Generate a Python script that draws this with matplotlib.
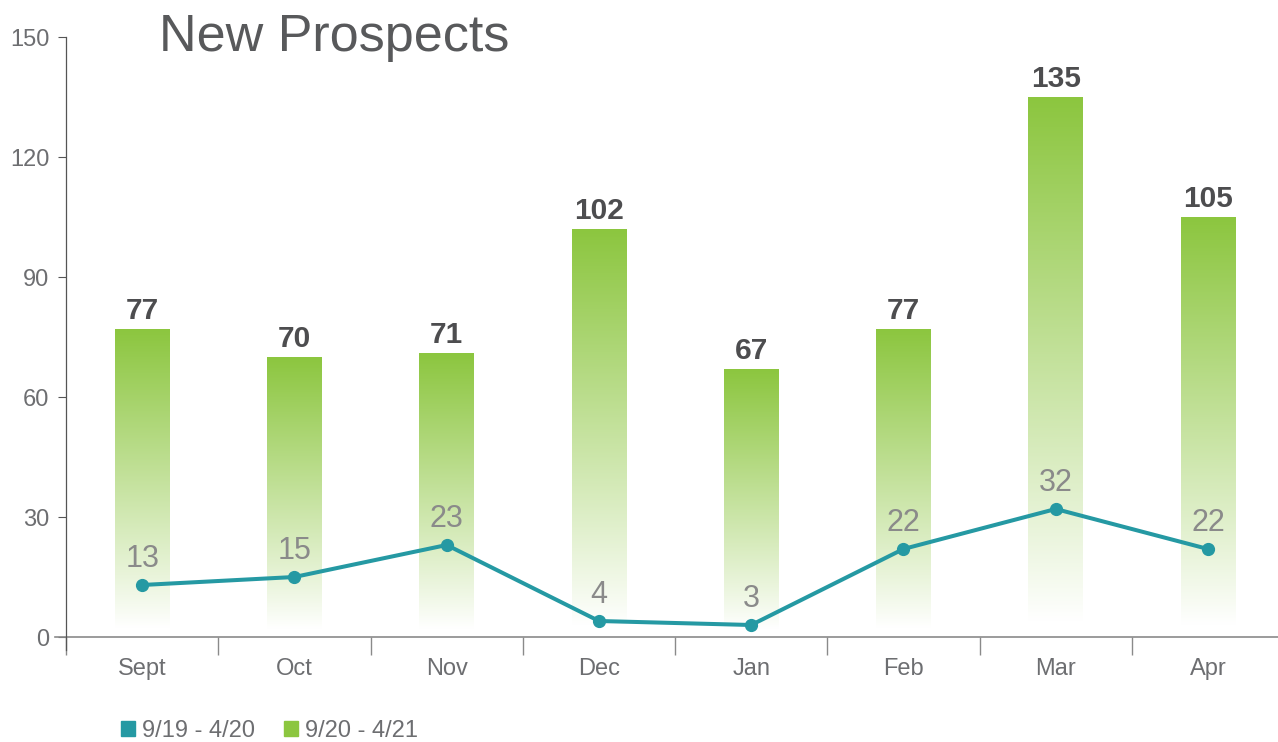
import numpy as np
import matplotlib
matplotlib.use('Agg')
import matplotlib.pyplot as plt
from matplotlib.patches import Rectangle
from matplotlib.colors import to_rgb

months = ['Sept', 'Oct', 'Nov', 'Dec', 'Jan', 'Feb', 'Mar', 'Apr']
current = [77, 70, 71, 102, 67, 77, 135, 105]   # 9/20 - 4/21
previous = [13, 15, 23, 4, 3, 22, 32, 22]        # 9/19 - 4/20
series_names = ['9/19 - 4/20', '9/20 - 4/21']
yticks = [0, 30, 60, 90, 120, 150]

green = '#8cc63f'
teal = '#2599a3'
grey_text = '#6d6e71'
axis_grey = '#8a8a8a'

plt.rcParams['font.family'] = ['Liberation Sans', 'DejaVu Sans']

fig = plt.figure(figsize=(12.78, 7.42), dpi=100)
ax = fig.add_axes([66 / 1278, 1 - 637 / 742, 1 - 66 / 1278, 600 / 742])

x = np.arange(len(months))
bar_w = 0.36
bars = ax.bar(x, current, width=bar_w, color='none', edgecolor='none')

# vertical gradient inside each bar: green at top fading to white at bottom
g = np.array(to_rgb(green))
t = np.linspace(0, 1, 256)[:, None]
f = np.clip((t - 0.03) / 0.97, 0, 1) ** 0.95
grad = (1 - f)[..., None] * np.ones(3) + f[..., None] * g
for rect in bars:
    x0 = rect.get_x()
    h = rect.get_height()
    im = ax.imshow(grad, extent=[x0, x0 + rect.get_width(), 0, h],
                   origin='lower', aspect='auto', zorder=1)
    im.set_clip_path(rect)

for xi, v in zip(x, current):
    ax.annotate(str(v), (xi, v), xytext=(0, 3), textcoords='offset points',
                ha='center', va='bottom', fontsize=21.5, fontweight='bold',
                color='#4d4d4f')

ax.plot(x, previous, color=teal, lw=2.9, marker='o', markersize=8.5, zorder=3)
for xi, v in zip(x, previous):
    ax.annotate(str(v), (xi, v), xytext=(0, 8), textcoords='offset points',
                ha='center', va='bottom', fontsize=22, color='#8a8a8a')

ax.set_xlim(-0.5, 7.46)
ax.set_ylim(0, 150)

for s in ax.spines.values():
    s.set_visible(False)
# axis lines drawn by hand so they overhang like the original
ax.plot([-0.57, 7.46], [0, 0], color=axis_grey, lw=1.2, clip_on=False, zorder=2)
ax.plot([-0.5, -0.5], [-3.2, 150], color='#555555', lw=0.9, clip_on=False)

ax.set_yticks(yticks)
ax.set_yticklabels([str(v) for v in yticks])
ax.tick_params(axis='y', direction='out', length=6, color='#555555',
               labelsize=17, labelcolor=grey_text, pad=6)
ax.set_xticks(x)
ax.set_xticklabels(months)
ax.tick_params(axis='x', length=0, labelsize=17, labelcolor=grey_text, pad=15)
ax.set_xticks(np.arange(-0.5, 7.5, 1.0), minor=True)
ax.tick_params(axis='x', which='minor', direction='out', length=13,
               color=axis_grey, width=1)

fig.text(159 / 1278, 1 - 37 / 742, 'New Prospects', fontsize=37.5,
         color='#58595b', va='center', ha='left')

handles = [Rectangle((0, 0), 1, 1, color=teal), Rectangle((0, 0), 1, 1, color=green)]
fig.legend(handles, series_names, loc='center left',
           bbox_to_anchor=(100 / 1278, 1 - 731 / 742), ncol=2, frameon=False,
           fontsize=17, handlelength=0.6, handleheight=0.6, handletextpad=0.3,
           columnspacing=1.2, labelcolor=grey_text)

fig.savefig('out.png', dpi=100)
